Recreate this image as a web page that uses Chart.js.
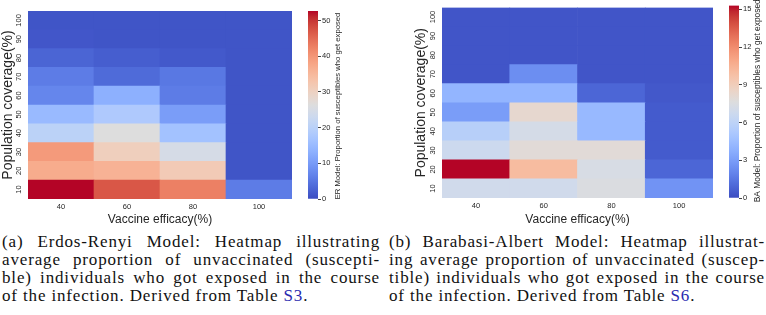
<!DOCTYPE html>
<html><head><meta charset="utf-8">
<script src="https://cdn.jsdelivr.net/npm/chart.js@4"></script>
<style>
body{margin:0;background:#fff;width:766px;height:315px;overflow:hidden;position:relative;font-family:"Liberation Sans",Arial,sans-serif}
canvas{position:absolute}
.cap{position:absolute;font-family:"Liberation Serif",serif;font-size:17px;line-height:18px;color:#111;letter-spacing:0.85px}
.cap div{white-space:nowrap;text-align:justify;text-align-last:justify}
.cap div.last{text-align-last:left}
.ref{color:#2a2ab0}
</style></head><body>
<canvas id="h1" width="300" height="232" style="left:0;top:0"></canvas>
<canvas id="c1" width="66" height="232" style="left:300px;top:0"></canvas>
<canvas id="h2" width="300" height="232" style="left:413px;top:0"></canvas>
<canvas id="c2" width="46" height="232" style="left:720px;top:0"></canvas>
<div class="cap" style="left:2px;top:233px;width:378px">
<div>(a) Erdos-Renyi Model: Heatmap illustrating</div>
<div>average proportion of unvaccinated (suscepti-</div>
<div>ble) individuals who got exposed in the course</div>
<div class="last">of the infection. Derived from Table <span class="ref">S3</span>.</div>
</div>
<div class="cap" style="left:389px;top:233px;width:376px">
<div>(b) Barabasi-Albert Model: Heatmap illustrat-</div>
<div>ing average proportion of unvaccinated (suscep-</div>
<div>tible) individuals who got exposed in the course</div>
<div class="last">of the infection. Derived from Table <span class="ref">S6</span>.</div>
</div>
<script>
// ---- data ----
const efficacy = ['40', '60', '80', '100'];           // x categories (Vaccine efficacy %)
const coverage = [10, 20, 30, 40, 50, 60, 70, 80, 90, 100]; // y categories (Population coverage %)
// ER model: rows follow coverage (10..100), columns follow efficacy (40,60,80,100)
const erValues = [
  [52.7, 47.0, 42.7, 5.8],
  [37.0, 36.0, 31.6, 1.0],
  [39.5, 30.6, 24.7, 1.0],
  [20.3, 26.3, 16.4, 1.0],
  [15.0, 18.2, 10.3, 1.0],
  [7.1, 13.2, 5.8, 1.0],
  [5.8, 3.7, 5.3, 1.0],
  [2.9, 2.1, 1.5, 1.0],
  [1.2, 1.0, 1.0, 1.0],
  [1.0, 1.0, 1.0, 1.0]
];
// BA model
const baValues = [
  [6.9, 6.9, 7.5, 2.6],
  [15.3, 10.0, 7.3, 0.9],
  [6.7, 7.9, 7.9, 0.5],
  [5.7, 7.1, 4.3, 0.5],
  [3.0, 8.2, 4.3, 0.5],
  [4.1, 4.1, 0.9, 0.4],
  [0.3, 2.4, 0.3, 0.3],
  [0.3, 0.3, 0.3, 0.3],
  [0.3, 0.3, 0.3, 0.3],
  [0.3, 0.3, 0.3, 0.3]
];
const erMax = 52.7, baMax = 15.3;
const erCbTicksStep = 10, baCbTicksStep = 3;
const erCbLabel = 'ER Model: Proportion of susceptibles who get exposed';
const baCbLabel = 'BA Model: Proportion of susceptibles who get exposed';
const xTitle = 'Vaccine efficacy(%)';
const yTitle = 'Population coverage(%)';

// ---- coolwarm colormap ----
const CW = [[59,76,192],[68,90,204],[77,104,215],[87,117,225],[98,130,234],[108,142,241],[119,154,247],[130,165,251],[141,176,254],[152,185,255],[163,194,255],[174,201,253],[184,208,249],[194,213,244],[204,217,238],[213,219,230],[221,221,221],[229,216,209],[236,211,197],[241,204,184],[245,196,172],[247,187,159],[247,177,147],[247,166,134],[244,154,123],[241,141,111],[236,127,99],[229,112,89],[222,96,77],[213,80,66],[203,62,56],[192,40,47],[180,4,38]];
function coolwarm(t) {
  t = Math.max(0, Math.min(1, t));
  const p = t * (CW.length - 1), i = Math.min(CW.length - 2, Math.floor(p)), f = p - i;
  const c = CW[i].map((v, k) => Math.round(v + (CW[i + 1][k] - v) * f));
  return `rgb(${c[0]},${c[1]},${c[2]})`;
}
const TXT = '#262626';
const FONT = '"Liberation Sans", Arial, sans-serif';
Chart.defaults.font.family = FONT;

function heatmap(id, values, vmax, pad, yWidth, xHeight) {
  const datasets = coverage.map((cov, r) => ({
    label: String(cov),
    data: values[r].map(() => [cov - 5, cov + 5]),
    backgroundColor: values[r].map(v => coolwarm(v / vmax)),
    borderWidth: 0,
    barPercentage: 1,
    categoryPercentage: 1,
    grouped: false
  }));
  new Chart(document.getElementById(id), {
    type: 'bar',
    data: { labels: efficacy, datasets },
    options: {
      responsive: false, animation: false,
      layout: { padding: pad },
      plugins: { legend: { display: false }, tooltip: { enabled: false } },
      scales: {
        x: {
          grid: { display: false, drawTicks: false }, border: { display: false },
          ticks: { font: { size: 7.5 }, color: TXT, padding: 3 },
          title: { display: true, text: xTitle, font: { size: 12 }, color: TXT, padding: { top: 0, bottom: 5 } },
          afterFit(s) { s.height = xHeight; }
        },
        y: {
          type: 'linear', min: 5, max: 105,
          grid: { display: false, drawTicks: false }, border: { display: false },
          afterBuildTicks(s) { s.ticks = coverage.map(v => ({ value: v })); },
          ticks: { autoSkip: false, minRotation: 90, maxRotation: 90, crossAlign: 'center', padding: 3, font: { size: 7.5 }, color: TXT },
          title: { display: true, text: yTitle, font: { size: 14 }, color: TXT, padding: 0 },
          afterFit(s) { s.width = yWidth; }
        }
      }
    }
  });
}

const cbTitle = {
  id: 'cbTitle',
  afterDraw(chart, args, o) {
    const { ctx, chartArea } = chart;
    ctx.save();
    ctx.font = `${o.size}px ${FONT}`;
    ctx.fillStyle = TXT;
    ctx.translate(o.x, (chartArea.top + chartArea.bottom) / 2 + o.dy);
    ctx.rotate(-Math.PI / 2);
    ctx.textAlign = 'center';
    ctx.textBaseline = 'middle';
    ctx.fillText(o.text, 0, 0);
    ctx.restore();
  }
};

function colorbar(id, vmax, step, text, pad, yWidth, titleX, size, dy) {
  new Chart(document.getElementById(id), {
    type: 'bar',
    data: {
      labels: [''],
      datasets: [{
        data: [[0, vmax]],
        backgroundColor(ctx) {
          const a = ctx.chart.chartArea;
          if (!a) return '#888';
          const g = ctx.chart.ctx.createLinearGradient(0, a.bottom, 0, a.top);
          CW.forEach((c, i) => g.addColorStop(i / (CW.length - 1), `rgb(${c[0]},${c[1]},${c[2]})`));
          return g;
        },
        borderWidth: 0, barPercentage: 1, categoryPercentage: 1
      }]
    },
    options: {
      responsive: false, animation: false,
      layout: { padding: pad },
      plugins: { legend: { display: false }, tooltip: { enabled: false }, cbTitle: { text, x: titleX, size, dy } },
      scales: {
        x: { display: false },
        y: {
          position: 'right', min: 0, max: vmax,
          grid: { display: true, drawOnChartArea: false, drawTicks: true, tickLength: 3, color: '#444' },
          border: { display: false },
          ticks: { stepSize: step, includeBounds: false, font: { size: 7.5 }, color: TXT, padding: 1 },
          afterFit(s) { s.width = yWidth; }
        }
      }
    },
    plugins: [cbTitle]
  });
}

heatmap('h1', erValues, erMax, { top: 11, right: 8, left: 0, bottom: 0 }, 28, 33);
heatmap('h2', baValues, baMax, { top: 6, right: 0, left: 0, bottom: 0 }, 29, 34);
colorbar('c1', erMax, erCbTicksStep, erCbLabel, { left: 8, top: 11, bottom: 33, right: 0 }, 48, 38, 7.7, 1);
colorbar('c2', baMax, baCbTicksStep, baCbLabel, { left: 9, top: 5, bottom: 34, right: 0 }, 27, 38, 8.4, -1);
</script>
</body></html>
